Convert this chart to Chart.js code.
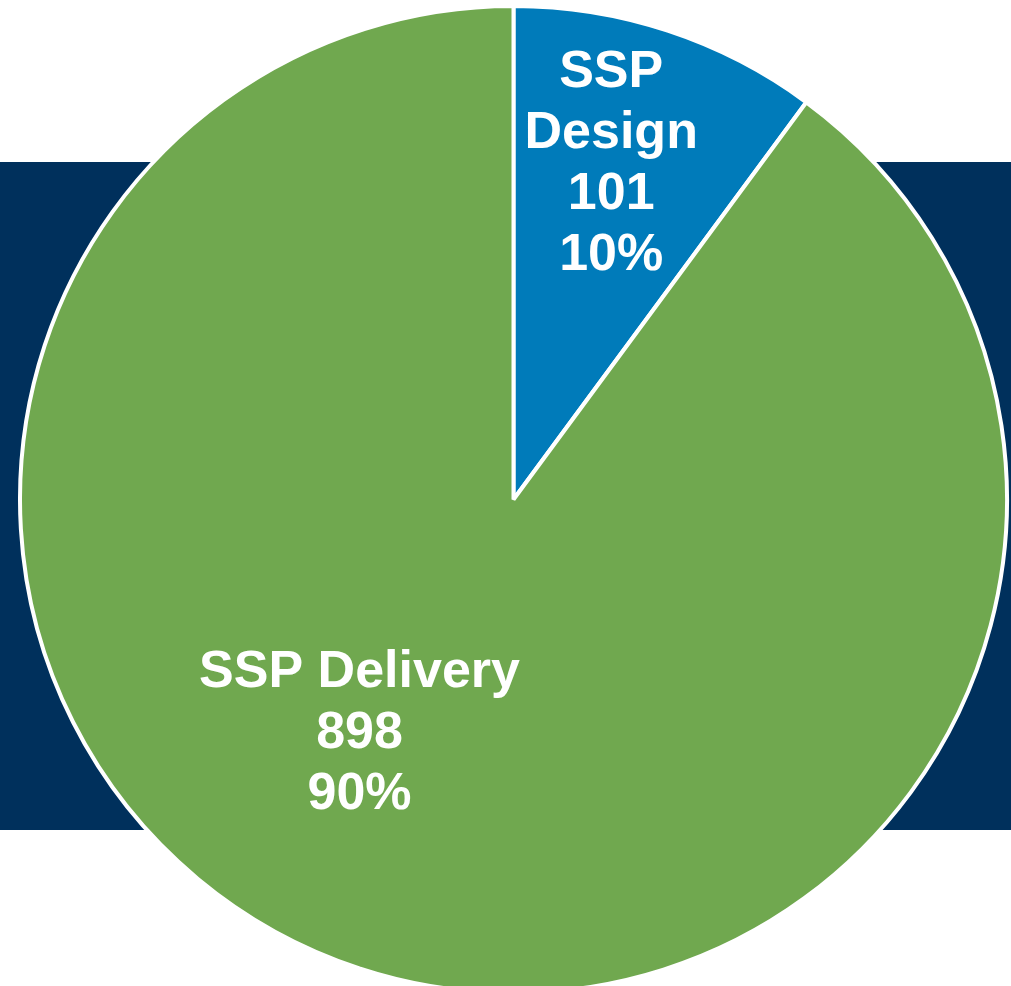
<!DOCTYPE html>
<html>
<head>
<meta charset="utf-8">
<script src="https://cdn.jsdelivr.net/npm/chart.js@4/dist/chart.umd.min.js"></script>
<style>
  html, body { margin: 0; padding: 0; background: #fff; overflow: hidden; }
  #wrap { width: 1011px; height: 1000px; }
</style>
</head>
<body>
<div id="wrap"><canvas id="mycan1"></canvas></div>
<script>
var labels = ['SSP Design', 'SSP Delivery'];
var values = [101, 898];
var colours = ['#007BBA', '#70A84F'];
// label text offset from pie centre, as a fraction of radius
var labelPos = [[0.198, -0.68], [-0.312, 0.475]];

// navy band behind the pie
var bandPlugin = {
  id: 'band',
  beforeDraw: function(chart) {
    var ctx = chart.ctx;
    ctx.save();
    ctx.fillStyle = '#00305C';
    ctx.fillRect(0, 162, chart.width, 830 - 162);
    ctx.restore();
  }
};

var labelPlugin = {
  id: 'sliceLabels',
  afterDatasetsDraw: function(chart) {
    var ctx = chart.ctx;
    var meta = chart.getDatasetMeta(0);
    var total = values.reduce(function(a, b) { return a + b; }, 0);
    ctx.save();
    ctx.fillStyle = '#ffffff';
    ctx.font = 'bold 52px "Liberation Sans", Arial, sans-serif';
    ctx.textAlign = 'center';
    ctx.textBaseline = 'middle';
    meta.data.forEach(function(arc, i) {
      var r = arc.outerRadius;
      var cx = arc.x + labelPos[i][0] * r;
      var cy = arc.y + labelPos[i][1] * r;
      var pct = Math.round(values[i] / total * 100) + '%';
      var lines;
      if (i === 0) {
        lines = labels[i].split(' ').concat([String(values[i]), pct]);
      } else {
        lines = [labels[i], String(values[i]), pct];
      }
      var lh = 61;
      var y0 = cy - (lines.length - 1) * lh / 2;
      lines.forEach(function(t, k) {
        ctx.fillText(t, cx, y0 + k * lh);
      });
    });
    ctx.restore();
  }
};

var ctx = document.getElementById('mycan1');
var piechart = new Chart(ctx, {
  type: 'pie',
  data: {
    labels: labels,
    datasets: [{
      data: values,
      backgroundColor: colours,
      borderColor: '#ffffff',
      borderWidth: 4
    }]
  },
  options: {
    responsive: true,
    maintainAspectRatio: false,
    animation: false,
    layout: { padding: { left: 18, right: 2, top: 4, bottom: 5 } },
    plugins: {
      legend: { display: false },
      tooltip: { enabled: false }
    }
  },
  plugins: [bandPlugin, labelPlugin]
});
</script>
</body>
</html>
